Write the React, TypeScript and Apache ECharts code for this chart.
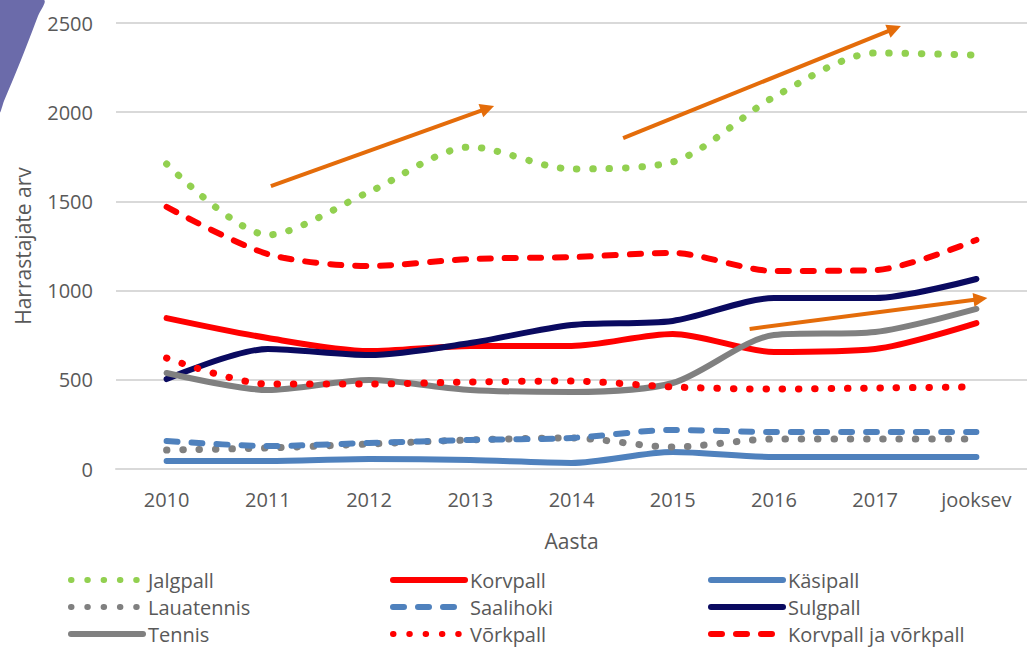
import React, { useEffect, useRef } from "react";
import * as echarts from "echarts";

const categories = ["2010", "2011", "2012", "2013", "2014", "2015", "2016", "2017", "jooksev"];

const jalgpall = [1710, 1312, 1553, 1805, 1682, 1721, 2085, 2332, 2320];
const korvpall = [846, 734, 661, 690, 690, 757, 656, 673, 818];
const kasipall = [45, 45, 56, 50, 34, 95, 67, 67, 67];
const lauatennis = [106, 118, 140, 163, 174, 123, 168, 168, 168];
const saalihoki = [157, 129, 146, 163, 174, 219, 207, 207, 207];
const sulgpall = [504, 673, 639, 706, 807, 830, 958, 958, 1065];
const tennis = [538, 443, 499, 443, 432, 482, 751, 768, 897];
const vorkpall = [622, 476, 476, 488, 493, 460, 448, 454, 460];
const korvJaVork = [1469, 1205, 1138, 1177, 1188, 1211, 1110, 1115, 1284];

const yTicks = { min: 0, max: 2500, interval: 500 };

// trend arrows: [startIndex, startValue, endIndex, endValue] (category index space)
const arrows = [
  [1.03, 1586, 3.17, 2022],
  [4.51, 1855, 7.19, 2469],
  [5.76, 785, 8.04, 953],
];

const FONT = "'Open Sans', sans-serif";
const TXT = "#595959";

const GREEN = "#92D050";
const RED = "#FF0000";
const BLUE = "#4F81BD";
const NAVY = "#0A0A60";
const GRAY = "#808080";
const ORANGE = "#E46C0A";

const dotted = [0.5, 15.8];
const dashed = [11, 14];

export default function App() {
  const ref = useRef<HTMLDivElement>(null);

  useEffect(() => {
    if (!ref.current) return;
    const chart = echarts.init(ref.current, null, { renderer: "svg" });

    const mk = (name: string, data: number[], color: string, width: number, type: any) => ({
      name,
      type: "line",
      data,
      smooth: 0.28,
      symbol: "none",
      showSymbol: false,
      lineStyle: { color, width, type, cap: "round", join: "round" },
      itemStyle: { color },
      z: 3,
    });

    const legendBase = {
      orient: "vertical",
      top: 570,
      height: 100,
      itemWidth: 72,
      itemHeight: 14,
      itemGap: 7,
      padding: 0,
      itemStyle: { opacity: 0, borderWidth: 0 },
      lineStyle: { width: 6 },
      textStyle: { fontSize: 20, color: TXT, fontFamily: FONT },
      selectedMode: false,
    };

    chart.setOption({
      animation: false,
      backgroundColor: "#ffffff",
      textStyle: { fontFamily: FONT },
      grid: { left: 116, top: 23, width: 918, height: 446, containLabel: false },
      xAxis: [
        {
          type: "category",
          data: categories,
          boundaryGap: true,
          axisLine: { show: true, lineStyle: { color: "#D9D9D9", width: 2 } },
          axisTick: { show: false },
          axisLabel: { fontSize: 20, color: TXT, fontFamily: FONT, margin: 20 },
          name: "Aasta",
          nameLocation: "middle",
          nameGap: 61,
          nameTextStyle: { fontSize: 21, color: TXT, fontFamily: FONT },
        },
        { type: "value", min: -0.5, max: 8.5, show: false },
      ],
      yAxis: {
        type: "value",
        min: yTicks.min,
        max: yTicks.max,
        interval: yTicks.interval,
        axisLine: { show: false },
        axisTick: { show: false },
        splitLine: { lineStyle: { color: "#D9D9D9", width: 2 } },
        axisLabel: {
          fontSize: 20,
          color: TXT,
          fontFamily: FONT,
          margin: 23,
          formatter: (v: number) => String(v),
        },
        name: "Harrastajate arv",
        nameLocation: "middle",
        nameGap: 83,
        nameTextStyle: { fontSize: 21, color: TXT, fontFamily: FONT },
      },
      legend: [
        { ...legendBase, left: 68, data: ["Jalgpall", "Lauatennis", "Tennis"] },
        { ...legendBase, left: 390, data: ["Korvpall", "Saalihoki", "Võrkpall"] },
        { ...legendBase, left: 708, data: ["Käsipall", "Sulgpall", "Korvpall ja võrkpall"] },
      ],
      series: [
        mk("Jalgpall", jalgpall, GREEN, 7, dotted),
        mk("Korvpall", korvpall, RED, 6, "solid"),
        mk("Käsipall", kasipall, BLUE, 6, "solid"),
        mk("Lauatennis", lauatennis, GRAY, 7, dotted),
        mk("Saalihoki", saalihoki, BLUE, 6, dashed),
        mk("Sulgpall", sulgpall, NAVY, 6, "solid"),
        mk("Tennis", tennis, GRAY, 6, "solid"),
        mk("Võrkpall", vorkpall, RED, 7, dotted),
        mk("Korvpall ja võrkpall", korvJaVork, RED, 6, dashed),
        {
          name: "trend",
          type: "line",
          xAxisIndex: 1,
          data: [],
          symbol: "none",
          z: 5,
          markLine: {
            silent: true,
            animation: false,
            symbol: ["none", "triangle"],
            symbolSize: [14, 14],
            label: { show: false },
            lineStyle: { color: ORANGE, width: 4, type: "solid", opacity: 1 },
            emphasis: { disabled: true },
            data: arrows.map((a) => [{ coord: [a[0], a[1]] }, { coord: [a[2], a[3]] }]),
          },
        },
      ],
      graphic: [
        {
          type: "polygon",
          z: 100,
          shape: {
            points: [
              [0, 0],
              [44, 0],
              [38, 16],
              [30, 37],
              [21, 60],
              [12, 82],
              [4, 101],
              [0, 112],
            ],
            smooth: 0.3,
          },
          style: { fill: "#6B6BAA" },
        },
      ],
    });

    return () => chart.dispose();
  }, []);

  return (
    <div
      ref={ref}
      style={{ position: "fixed", left: 0, top: 0, width: 1027, height: 647, background: "#fff" }}
    />
  );
}
